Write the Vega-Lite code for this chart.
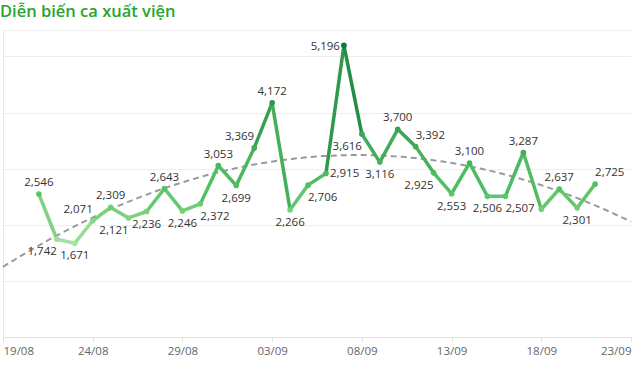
{
  "$schema": "https://vega.github.io/schema/vega-lite/v6.json",
  "width": 628,
  "height": 307,
  "autosize": {"type": "none"},
  "padding": {"left": 3, "top": 30, "right": 10, "bottom": 29},
  "background": "white",
  "title": {"text": "Diễn biến ca xuất viện", "anchor": "start", "font": "Open Sans", "fontSize": 16.5, "fontWeight": 600, "color": "#26a52b", "offset": 10, "dx": 1},
  "config": {"view": {"stroke": null}, "font": "Open Sans"},
  "data": {"values": [
    {"d": "2021-08-21", "v": 2546},
    {"d": "2021-08-22", "v": 1742},
    {"d": "2021-08-23", "v": 1671},
    {"d": "2021-08-24", "v": 2071},
    {"d": "2021-08-25", "v": 2309},
    {"d": "2021-08-26", "v": 2121},
    {"d": "2021-08-27", "v": 2236},
    {"d": "2021-08-28", "v": 2643},
    {"d": "2021-08-29", "v": 2246},
    {"d": "2021-08-30", "v": 2372},
    {"d": "2021-08-31", "v": 3053},
    {"d": "2021-09-01", "v": 2699},
    {"d": "2021-09-02", "v": 3369},
    {"d": "2021-09-03", "v": 4172},
    {"d": "2021-09-04", "v": 2266},
    {"d": "2021-09-05", "v": 2706},
    {"d": "2021-09-06", "v": 2915},
    {"d": "2021-09-07", "v": 5196},
    {"d": "2021-09-08", "v": 3616},
    {"d": "2021-09-09", "v": 3116},
    {"d": "2021-09-10", "v": 3700},
    {"d": "2021-09-11", "v": 3392},
    {"d": "2021-09-12", "v": 2925},
    {"d": "2021-09-13", "v": 2553},
    {"d": "2021-09-14", "v": 3100},
    {"d": "2021-09-15", "v": 2506},
    {"d": "2021-09-16", "v": 2507},
    {"d": "2021-09-17", "v": 3287},
    {"d": "2021-09-18", "v": 2275},
    {"d": "2021-09-19", "v": 2637},
    {"d": "2021-09-20", "v": 2301},
    {"d": "2021-09-21", "v": 2725}
  ]},
  "encoding": {
    "x": {"field": "d", "type": "temporal",
      "scale": {"type": "utc", "domain": [1629331200000, 1632355200000]},
      "axis": {"title": null, "grid": false, "format": "%d/%m",
        "values": [1629331200000, 1629763200000, 1630195200000, 1630627200000, 1631059200000, 1631491200000, 1631923200000, 1632355200000],
        "domainColor": "#e2e2e2", "tickColor": "#e2e2e2", "tickSize": 5, "labelColor": "#666666", "labelFontSize": 11.5, "labelFont": "Open Sans", "labelFlush": true, "labelPadding": 3}},
    "y": {"field": "v", "type": "quantitative",
      "scale": {"domain": [0, 5470], "nice": false},
      "axis": {"title": null, "labels": false, "ticks": false, "domain": true, "domainColor": "#e8e8e8", "grid": true, "gridColor": "#eeeeee", "values": [0, 1000, 2000, 3000, 4000, 5000, 5470]}}
  },
  "layer": [
    {
      "transform": [{"regression": "v", "on": "d", "method": "poly", "order": 2, "extent": [1629331200000, 1632355200000]}],
      "mark": {"type": "line", "color": "#9a9a9a", "strokeWidth": 2, "strokeDash": [6, 4]},
      "encoding": {}
    },
    {
      "transform": [
        {"window": [{"op": "lead", "field": "v", "as": "v2"}, {"op": "lead", "field": "d", "as": "d2"}, {"op": "mean", "field": "v", "as": "c"}], "sort": [{"field": "d"}], "frame": [0, 1]},
        {"filter": "datum.v2 != null"}
      ],
      "mark": {"type": "rule", "strokeWidth": 3.5, "strokeCap": "round"},
      "encoding": {
        "x2": {"field": "d2"},
        "y2": {"field": "v2"},
        "color": {"field": "c", "type": "quantitative", "legend": null,
          "scale": {"domain": [1671, 2600, 5196], "range": ["#a6e3a1", "#55c266", "#0b7a3a"]}}
      }
    },
    {
      "mark": {"type": "circle", "size": 32, "opacity": 1},
      "encoding": {
        "color": {"field": "v", "type": "quantitative", "legend": null}
      }
    },
    {
      "transform": [{"filter": {"field": "v", "oneOf": [2546, 2309, 2643, 3053, 4172, 3700, 3100, 3287, 2637]}}],
      "mark": {"type": "text", "fontSize": 11.5, "color": "#333333", "baseline": "middle", "align": "center", "dy": -11},
      "encoding": {"text": {"field": "v", "type": "quantitative", "format": ","}}
    },
    {
      "transform": [{"filter": {"field": "v", "oneOf": [2071, 3369]}}],
      "mark": {"type": "text", "fontSize": 11.5, "color": "#333333", "baseline": "middle", "align": "right", "dx": 0, "dy": -11},
      "encoding": {"text": {"field": "v", "type": "quantitative", "format": ","}}
    },
    {
      "transform": [{"filter": {"field": "v", "oneOf": [3392, 2725]}}],
      "mark": {"type": "text", "fontSize": 11.5, "color": "#333333", "baseline": "middle", "align": "left", "dx": 0, "dy": -11},
      "encoding": {"text": {"field": "v", "type": "quantitative", "format": ","}}
    },
    {
      "transform": [{"filter": {"field": "v", "oneOf": [2915]}}],
      "mark": {"type": "text", "fontSize": 11.5, "color": "#333333", "baseline": "middle", "align": "left", "dx": 4, "dy": 1},
      "encoding": {"text": {"field": "v", "type": "quantitative", "format": ","}}
    },
    {
      "transform": [{"filter": {"field": "v", "oneOf": [5196]}}],
      "mark": {"type": "text", "fontSize": 11.5, "color": "#333333", "baseline": "middle", "align": "right", "dx": -4, "dy": 2},
      "encoding": {"text": {"field": "v", "type": "quantitative", "format": ","}}
    },
    {
      "transform": [{"filter": {"field": "v", "oneOf": [1671, 2236, 2246, 2699, 2266, 3116, 2553, 2506, 2301]}}],
      "mark": {"type": "text", "fontSize": 11.5, "color": "#333333", "baseline": "middle", "align": "center", "dy": 13},
      "encoding": {"text": {"field": "v", "type": "quantitative", "format": ","}}
    },
    {
      "transform": [{"filter": {"field": "v", "oneOf": [1742, 2121, 3616, 2925]}}],
      "mark": {"type": "text", "fontSize": 11.5, "color": "#333333", "baseline": "middle", "align": "right", "dx": 0, "dy": 13},
      "encoding": {"text": {"field": "v", "type": "quantitative", "format": ","}}
    },
    {
      "transform": [{"filter": {"field": "v", "oneOf": [2372, 2706, 2507]}}],
      "mark": {"type": "text", "fontSize": 11.5, "color": "#333333", "baseline": "middle", "align": "left", "dx": 0, "dy": 13},
      "encoding": {"text": {"field": "v", "type": "quantitative", "format": ","}}
    }
  ]
}
